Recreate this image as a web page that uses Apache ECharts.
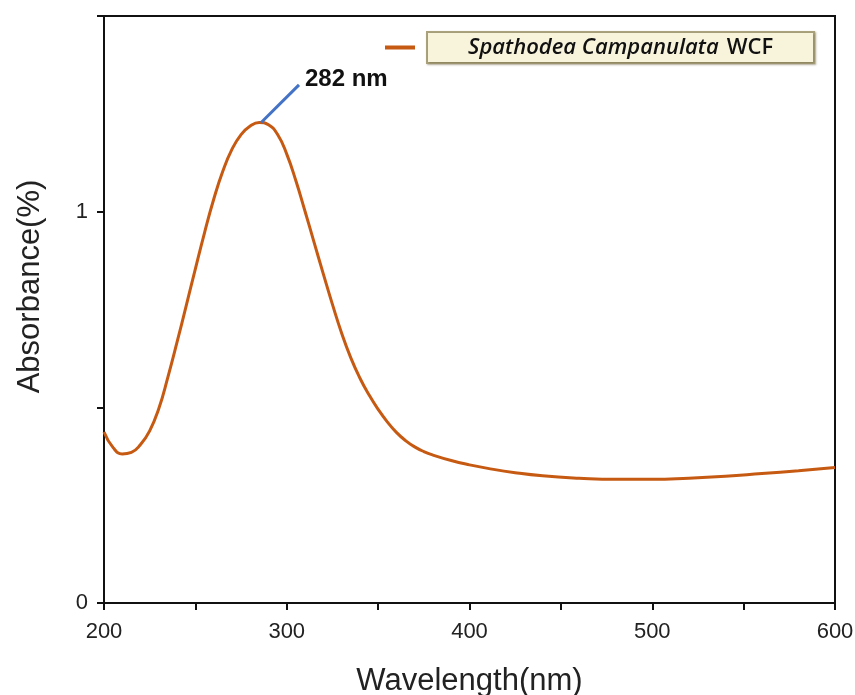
<!DOCTYPE html>
<html>
<head>
<meta charset="utf-8">
<script src="https://cdn.jsdelivr.net/npm/echarts@6/dist/echarts.min.js"></script>
<style>html,body{margin:0;padding:0;background:#fff;}#chart{width:855px;height:695px;}</style>
</head>
<body>
<div id="chart"></div>
<script>
// Data
var wavelength = [200, 205, 210, 215, 220, 225, 230, 235, 240, 245, 250, 255, 260, 265, 270, 275, 280, 285, 290, 295, 300, 305, 310, 315, 320, 325, 330, 335, 340, 345, 350, 355, 360, 365, 370, 375, 380, 390, 400, 410, 425, 440, 460, 480, 500, 520, 540, 560, 580, 600];
var absorbance = [0.437, 0.397, 0.381, 0.385, 0.405, 0.440, 0.497, 0.578, 0.667, 0.760, 0.854, 0.946, 1.031, 1.103, 1.159, 1.197, 1.219, 1.228, 1.222, 1.197, 1.147, 1.079, 1.001, 0.921, 0.841, 0.763, 0.690, 0.627, 0.575, 0.532, 0.495, 0.463, 0.436, 0.415, 0.399, 0.387, 0.378, 0.364, 0.353, 0.344, 0.333, 0.325, 0.319, 0.316, 0.316, 0.319, 0.324, 0.331, 0.338, 0.346];
var xTicks = [200, 300, 400, 500, 600];
var yTicks = [0, 1];
var seriesName = 'Spathodea Campanulata WCF';
var peakLabel = '282 nm';
var peakPointer = [[286, 1.228], [306.7, 1.324]];

var points = wavelength.map(function (w, i) { return [w, absorbance[i]]; });

var chart = echarts.init(document.getElementById('chart'));
chart.setOption({
  backgroundColor: '#ffffff',
  animation: false,
  grid: { left: 104, right: 20, top: 16, bottom: 92, containLabel: false, outerBoundsMode: 'none', show: true, borderColor: '#111', borderWidth: 2 },
  legend: {
    show: true,
    left: 385, top: 31, padding: 0,
    data: [seriesName],
    icon: 'path://M0 0H30V4H0Z M37.9 0H38V0.1H37.9Z',
    itemWidth: 38, itemHeight: 4,
    formatter: function () { return '{i|Spathodea Campanulata}{n|WCF}'; },
    textStyle: {
      backgroundColor: '#F8F4DC',
      borderColor: '#A9A27C',
      borderWidth: 2,
      padding: [4, 40, 3, 40],
      shadowColor: 'rgba(90,80,40,0.45)',
      shadowBlur: 2,
      shadowOffsetX: 1,
      shadowOffsetY: 1,
      rich: {
        i: { fontFamily: 'Open Sans', fontStyle: 'italic', fontWeight: 600, fontSize: 22, color: '#111' },
        n: { fontFamily: 'Open Sans', fontWeight: 600, fontSize: 22, color: '#111', padding: [0, 0, 0, 8] }
      }
    }
  },
  xAxis: {
    type: 'value', min: 200, max: 600, interval: 50,
    name: 'Wavelength(nm)', nameLocation: 'middle', nameGap: 63,
    nameTextStyle: { fontFamily: 'Liberation Sans', fontSize: 31, color: '#222' },
    axisLine: { lineStyle: { color: '#111', width: 2 } },
    axisTick: { inside: false, length: 7, lineStyle: { color: '#111', width: 2 } },
    axisLabel: {
      margin: 18, fontFamily: 'Liberation Sans', fontSize: 22, color: '#222',
      formatter: function (v) { return xTicks.indexOf(v) >= 0 ? String(v) : ''; }
    },
    splitLine: { show: false }
  },
  yAxis: {
    type: 'value', min: 0, max: 1.5, interval: 0.5,
    name: 'Absorbance(%)', nameLocation: 'middle', nameGap: 58,
    nameTextStyle: { fontFamily: 'Liberation Sans', fontSize: 31, color: '#222', padding: [0, 0, 0, 46] },
    axisLine: { lineStyle: { color: '#111', width: 2 } },
    axisTick: { inside: false, length: 7, lineStyle: { color: '#111', width: 2 } },
    axisLabel: {
      margin: 16, fontFamily: 'Liberation Sans', fontSize: 22, color: '#222',
      formatter: function (v) { return yTicks.indexOf(v) >= 0 ? String(v) : ''; }
    },
    splitLine: { show: false }
  },
  series: [{
    name: seriesName,
    type: 'line',
    data: points,
    smooth: 0.5,
    showSymbol: false,
    clip: false,
    lineStyle: { color: '#C65A12', width: 3 },
    itemStyle: { color: '#C65A12' },
    markLine: {
      silent: true,
      symbol: ['none', 'none'],
      lineStyle: { color: '#4472C4', width: 3, type: 'solid' },
      label: { show: false },
      data: [[{ coord: peakPointer[0] }, { coord: peakPointer[1] }]]
    },
    markPoint: {
      silent: true,
      symbol: 'circle', symbolSize: 0,
      label: {
        show: true, position: 'right', distance: 6, offset: [0, -5],
        formatter: peakLabel,
        fontFamily: 'Liberation Sans', fontWeight: 'bold', fontSize: 24, color: '#111'
      },
      data: [{ coord: peakPointer[1] }]
    }
  }]
});
</script>
</body>
</html>
